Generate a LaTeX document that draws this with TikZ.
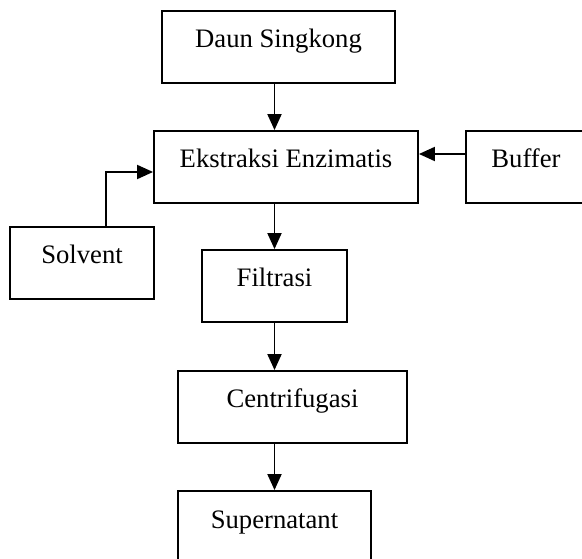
\documentclass[tikz,border=0pt]{standalone}
\usepackage{xcolor}
\usepackage{fontspec}
\setmainfont{Liberation Serif}
\usepackage{tikz}
\usetikzlibrary{positioning,calc,arrows.meta}

\tikzset{
  procbox/.style={draw, line width=1.4pt, inner sep=0pt, text height=27.75pt, text depth=26.25pt, font=\fontsize{20}{24}\selectfont},
  flowarr/.style={line width=1.4pt, -{Triangle[length=12pt,width=10.5pt]}}
}

\begin{document}
\begin{tikzpicture}[x=0.75pt,y=0.75pt,yscale=-1,xscale=1]
\useasboundingbox (0,0) rectangle (582,559);
\clip (0,0) rectangle (582,559);

%Shape: Rectangle
        \node [procbox, minimum width=174.75pt] (daun) at (278.5,47) {Daun Singkong};
%Shape: Rectangle
        \node [procbox, minimum width=198pt] (ekstraksi) at (286,167) {Ekstraksi Enzimatis};
%Shape: Rectangle
        \node [procbox, minimum width=90pt] (buffer) at (526,167) {Buffer};
%Shape: Rectangle
        \node [procbox, minimum width=108pt] (solvent) at (82,263) {Solvent};
%Shape: Rectangle
        \node [procbox, minimum width=108.75pt] (filtrasi) at (274.5,286) {Filtrasi};
%Shape: Rectangle
        \node [procbox, minimum width=171.75pt] (centrifugasi) at (292.5,407) {Centrifugasi};
%Shape: Rectangle
        \node [procbox, minimum width=144.75pt] (supernatant) at (274.5,527) {Supernatant};

% Connection
        \draw [flowarr] (daun.south -| filtrasi) -- (ekstraksi.north -| filtrasi);
% Connection
        \draw [flowarr] ($(buffer.west)+(0,-13)$) -- ($(ekstraksi.east)+(0,-13)$);
% Connection
        \draw [flowarr] ($(solvent.north)+(24,0)$) |- ($(ekstraksi.west)+(0,5)$);
% Connection
        \draw [flowarr] (ekstraksi.south -| filtrasi) -- (filtrasi.north);
% Connection
        \draw [flowarr] (filtrasi.south) -- (centrifugasi.north -| filtrasi);
% Connection
        \draw [flowarr] (centrifugasi.south -| supernatant) -- (supernatant.north);

\end{tikzpicture}
\end{document}
